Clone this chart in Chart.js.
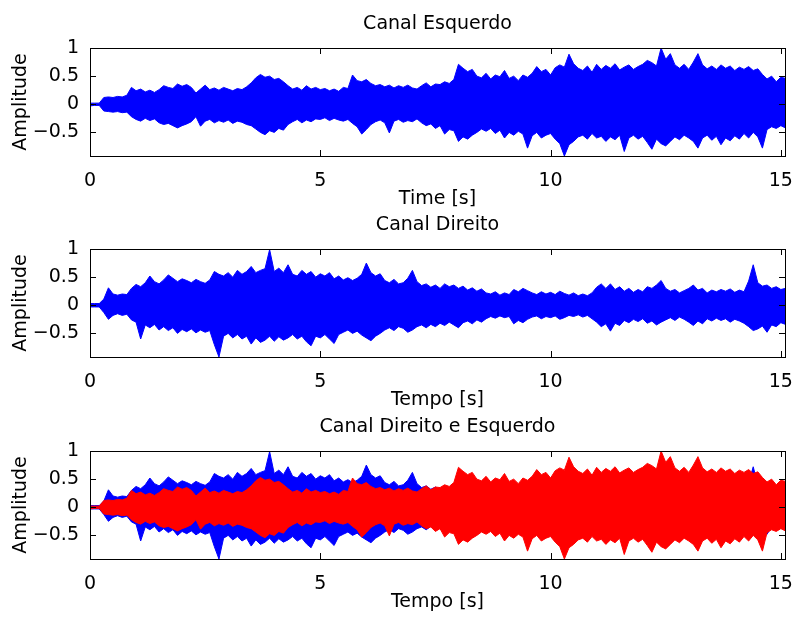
<!DOCTYPE html>
<html>
<head>
<meta charset="utf-8">
<script src="https://cdn.jsdelivr.net/npm/chart.js@4/dist/chart.umd.min.js"></script>
<style>
  html, body { margin: 0; padding: 0; background: #fff; }
  #figure { position: relative; width: 793px; height: 617px; }
  .panel { position: absolute; left: 0; width: 793px; height: 210px; }
</style>
</head>
<body>
<div id="figure">
  <div class="panel" style="top:0px"><canvas id="left" width="793" height="210"></canvas></div>
  <div class="panel" style="top:201px"><canvas id="right" width="793" height="210"></canvas></div>
  <div class="panel" style="top:403px"><canvas id="both" width="793" height="210"></canvas></div>
</div>
<script>
// Envelope of each channel, one value every 0.1 s (0.0 .. 15.1 s)
const STEP = 0.1;

const leftUpper = [
  0.02, 0.02, 0.02, 0.12, 0.13, 0.12, 0.14, 0.13, 0.16, 0.30,
  0.24, 0.27, 0.22, 0.25, 0.21, 0.26, 0.33, 0.30, 0.28, 0.36,
  0.32, 0.35, 0.30, 0.20, 0.27, 0.34, 0.26, 0.29, 0.25, 0.30,
  0.27, 0.24, 0.28, 0.26, 0.31, 0.38, 0.47, 0.53, 0.48, 0.50,
  0.44, 0.46, 0.40, 0.33, 0.27, 0.30, 0.25, 0.33, 0.27, 0.30,
  0.26, 0.28, 0.24, 0.27, 0.23, 0.30, 0.28, 0.52, 0.42, 0.40,
  0.44, 0.37, 0.33, 0.35, 0.31, 0.34, 0.29, 0.33, 0.30, 0.34,
  0.29, 0.27, 0.33, 0.38, 0.31, 0.36, 0.35, 0.40, 0.37, 0.44,
  0.71, 0.64, 0.58, 0.62, 0.50, 0.47, 0.55, 0.45, 0.52, 0.49,
  0.60, 0.46, 0.50, 0.42, 0.52, 0.48, 0.55, 0.67, 0.58, 0.62,
  0.52, 0.65, 0.70, 0.66, 0.89, 0.72, 0.64, 0.60, 0.68, 0.57,
  0.71, 0.62, 0.69, 0.64, 0.72, 0.61, 0.66, 0.70, 0.62, 0.67,
  0.71, 0.78, 0.74, 0.68, 1.00, 0.80, 0.90, 0.70, 0.64, 0.71,
  0.62, 0.75, 0.90, 0.70, 0.63, 0.68, 0.62, 0.70, 0.64, 0.68,
  0.60, 0.66, 0.62, 0.67, 0.60, 0.63, 0.53, 0.45, 0.50, 0.40,
  0.48, 0.46
];
const leftLower = [
  -0.03, -0.02, -0.02, -0.12, -0.13, -0.14, -0.13, -0.15, -0.14, -0.22,
  -0.27, -0.30, -0.25, -0.29, -0.26, -0.33, -0.36, -0.34, -0.38, -0.42,
  -0.38, -0.35, -0.31, -0.22, -0.39, -0.30, -0.27, -0.33, -0.29, -0.32,
  -0.28, -0.34, -0.30, -0.32, -0.36, -0.38, -0.44, -0.50, -0.54, -0.47,
  -0.50, -0.43, -0.46, -0.36, -0.31, -0.27, -0.33, -0.28, -0.31, -0.26,
  -0.27, -0.24, -0.29, -0.25, -0.28, -0.30, -0.27, -0.34, -0.40, -0.53,
  -0.45, -0.36, -0.31, -0.28, -0.33, -0.51, -0.30, -0.27, -0.32, -0.29,
  -0.31, -0.26, -0.33, -0.38, -0.35, -0.43, -0.38, -0.53, -0.45, -0.47,
  -0.66, -0.58, -0.62, -0.55, -0.50, -0.44, -0.48, -0.43, -0.52, -0.46,
  -0.60, -0.50, -0.55, -0.48, -0.53, -0.78, -0.56, -0.50, -0.60, -0.55,
  -0.52, -0.62, -0.70, -0.92, -0.72, -0.66, -0.58, -0.55, -0.62, -0.52,
  -0.60, -0.57, -0.66, -0.58, -0.63, -0.55, -0.84, -0.60, -0.55, -0.62,
  -0.57, -0.68, -0.80, -0.62, -0.70, -0.74, -0.66, -0.58, -0.63, -0.55,
  -0.60, -0.66, -0.78, -0.60, -0.55, -0.64, -0.57, -0.72, -0.60, -0.65,
  -0.56, -0.62, -0.52, -0.60, -0.50, -0.58, -0.78, -0.45, -0.40, -0.43,
  -0.38, -0.42
];
const rightUpper = [
  0.03, 0.03, 0.03, 0.11, 0.31, 0.20, 0.18, 0.20, 0.19, 0.30,
  0.37, 0.33, 0.40, 0.52, 0.42, 0.38, 0.45, 0.54, 0.48, 0.42,
  0.47, 0.44, 0.40, 0.46, 0.42, 0.39, 0.45, 0.60, 0.55, 0.52,
  0.58, 0.50, 0.62, 0.55, 0.60, 0.69, 0.58, 0.62, 0.65, 0.99,
  0.60, 0.66, 0.58, 0.72, 0.55, 0.52, 0.62, 0.55, 0.60, 0.50,
  0.56, 0.52, 0.58, 0.47, 0.52, 0.45, 0.49, 0.44, 0.48, 0.55,
  0.75, 0.58, 0.52, 0.56, 0.44, 0.40, 0.46, 0.38, 0.40, 0.48,
  0.62, 0.42, 0.35, 0.38, 0.32, 0.36, 0.30, 0.38, 0.33, 0.36,
  0.30, 0.34, 0.27, 0.31, 0.25, 0.29, 0.22, 0.20, 0.24, 0.18,
  0.22, 0.19, 0.28, 0.24, 0.30, 0.26, 0.22, 0.19, 0.24, 0.20,
  0.23, 0.19, 0.25, 0.21, 0.18, 0.22, 0.17, 0.20, 0.17, 0.22,
  0.32, 0.38, 0.30, 0.38, 0.28, 0.33, 0.25, 0.30, 0.23, 0.28,
  0.24, 0.33, 0.30, 0.36, 0.44, 0.30, 0.25, 0.28, 0.22, 0.26,
  0.30, 0.36, 0.27, 0.30, 0.22, 0.27, 0.24, 0.28, 0.25, 0.29,
  0.23, 0.27, 0.24, 0.43, 0.72, 0.40, 0.34, 0.36, 0.30, 0.33,
  0.28, 0.30
];
const rightLower = [
  -0.03, -0.03, -0.03, -0.13, -0.25, -0.18, -0.15, -0.18, -0.16, -0.26,
  -0.30, -0.60, -0.35, -0.40, -0.34, -0.44, -0.38, -0.45, -0.40, -0.50,
  -0.43, -0.47, -0.42, -0.49, -0.44, -0.48, -0.45, -0.70, -0.92, -0.55,
  -0.50, -0.58, -0.52, -0.60, -0.55, -0.69, -0.58, -0.66, -0.62, -0.55,
  -0.64, -0.56, -0.62, -0.58, -0.52, -0.60, -0.55, -0.65, -0.72, -0.55,
  -0.58, -0.52, -0.60, -0.68, -0.52, -0.48, -0.44, -0.50, -0.46, -0.53,
  -0.58, -0.63, -0.55, -0.50, -0.44, -0.40, -0.45, -0.38, -0.41, -0.48,
  -0.44, -0.38, -0.35, -0.40, -0.34, -0.38, -0.32, -0.36, -0.30, -0.35,
  -0.40, -0.31, -0.28, -0.33, -0.26, -0.30, -0.24, -0.20, -0.23, -0.19,
  -0.22, -0.20, -0.33, -0.27, -0.31, -0.25, -0.21, -0.19, -0.24, -0.20,
  -0.22, -0.19, -0.25, -0.22, -0.18, -0.20, -0.17, -0.21, -0.18, -0.24,
  -0.30, -0.38, -0.33, -0.46, -0.32, -0.36, -0.27, -0.31, -0.25, -0.29,
  -0.24, -0.32, -0.28, -0.35, -0.30, -0.26, -0.22, -0.27, -0.21, -0.25,
  -0.30, -0.36, -0.28, -0.33, -0.24, -0.28, -0.23, -0.27, -0.24, -0.30,
  -0.25, -0.28, -0.32, -0.38, -0.45, -0.42, -0.37, -0.48, -0.35, -0.38,
  -0.31, -0.34
];

const xTicks = [0, 5, 10, 15];
const yTicks = [-0.5, 0, 0.5, 1];
const X_MAX = 15.09;
const Y_MIN = -0.92;
const Y_MAX = 1;

const BLUE = '#0000ff';
const RED = '#ff0000';
const FONT = "'DejaVu Sans', sans-serif";

Chart.defaults.font.family = FONT;
Chart.defaults.font.size = 19;
Chart.defaults.color = '#000';

function toPoints(values) {
  return values.map((v, i) => ({ x: i * STEP, y: v }));
}

// upper edge fills down to the lower edge that follows it
function band(upper, lower, color) {
  const common = {
    borderColor: color,
    backgroundColor: color,
    borderWidth: 1,
    pointRadius: 0,
    tension: 0
  };
  return [
    Object.assign({ data: toPoints(upper), fill: '+1' }, common),
    Object.assign({ data: toPoints(lower), fill: false }, common)
  ];
}

// box, inward ticks on all sides and the title above the axes
const boxedAxes = {
  id: 'boxedAxes',
  afterDraw(chart, args, opts) {
    const { ctx, chartArea: a, scales } = chart;
    const len = 6;
    ctx.save();
    ctx.strokeStyle = '#000';
    ctx.lineWidth = 1;
    ctx.strokeRect(Math.round(a.left) + 0.5, Math.round(a.top) + 0.5,
      Math.round(a.right - a.left), Math.round(a.bottom - a.top));
    ctx.beginPath();
    scales.x.ticks.forEach(t => {
      const px = Math.round(scales.x.getPixelForValue(t.value)) + 0.5;
      ctx.moveTo(px, a.bottom); ctx.lineTo(px, a.bottom - len);
      ctx.moveTo(px, a.top); ctx.lineTo(px, a.top + len);
    });
    scales.y.ticks.forEach(t => {
      const py = Math.round(scales.y.getPixelForValue(t.value)) + 0.5;
      ctx.moveTo(a.left, py); ctx.lineTo(a.left + len, py);
      ctx.moveTo(a.right, py); ctx.lineTo(a.right - len, py);
    });
    ctx.stroke();
    ctx.fillStyle = '#000';
    ctx.font = '19px ' + FONT;
    ctx.textAlign = 'center';
    ctx.textBaseline = 'middle';
    ctx.fillText(opts.text, (a.left + a.right) / 2, a.top - 24);
    ctx.restore();
  }
};

function makePanel(id, title, xTitle, datasets) {
  return new Chart(document.getElementById(id), {
    type: 'line',
    data: { datasets: datasets },
    plugins: [boxedAxes],
    options: {
      responsive: false,
      animation: false,
      layout: { padding: { top: 48, left: 0, right: 8, bottom: 0 } },
      plugins: {
        legend: { display: false },
        tooltip: { enabled: false },
        boxedAxes: { text: title }
      },
      scales: {
        x: {
          type: 'linear',
          min: 0,
          max: X_MAX,
          grid: { display: false },
          border: { display: false },
          afterBuildTicks: s => { s.ticks = xTicks.map(v => ({ value: v })); },
          ticks: { padding: 6, maxRotation: 0 },
          title: { display: true, text: xTitle, padding: 0 },
          afterFit: s => { s.height = 54; s.paddingLeft = 0; s.paddingRight = 0; }
        },
        y: {
          min: Y_MIN,
          max: Y_MAX,
          grid: { display: false },
          border: { display: false },
          afterBuildTicks: s => { s.ticks = yTicks.map(v => ({ value: v })); },
          ticks: {
            padding: 3,
            callback: v => (v < 0 ? '\u2212' + Math.abs(v) : String(v))
          },
          title: { display: true, text: 'Amplitude', padding: { top: 10, bottom: 0 } },
          afterFit: s => { s.width = 90; s.paddingTop = 0; s.paddingBottom = 0; }
        }
      }
    }
  });
}

makePanel('left', 'Canal Esquerdo', 'Time [s]', band(leftUpper, leftLower, BLUE));
makePanel('right', 'Canal Direito', 'Tempo [s]', band(rightUpper, rightLower, BLUE));
// left channel (red) drawn over the right channel (blue)
makePanel('both', 'Canal Direito e Esquerdo', 'Tempo [s]',
  band(leftUpper, leftLower, RED).concat(band(rightUpper, rightLower, BLUE)));
</script>
</body>
</html>
